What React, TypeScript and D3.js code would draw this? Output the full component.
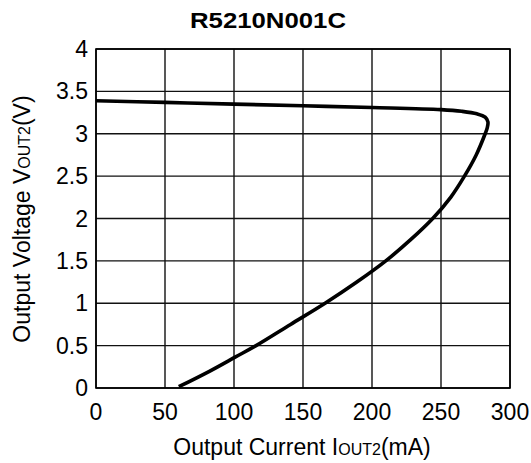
import React from "react";
import * as d3 from "d3";

const currentMA = [0, 50, 100, 150, 200, 250, 265, 276, 282, 284, 283.5, 282, 275.5, 267, 257, 244, 228, 210, 189, 166, 141, 116, 101.5, 82.5, 60];
const voltageV = [3.39, 3.37, 3.35, 3.33, 3.31, 3.285, 3.265, 3.235, 3.195, 3.14, 3.07, 3.0, 2.75, 2.5, 2.25, 2.0, 1.75, 1.5, 1.25, 1.0, 0.75, 0.5, 0.37, 0.2, 0.015];
const xTicks = [0, 50, 100, 150, 200, 250, 300];
const yTicks = [0, 0.5, 1, 1.5, 2, 2.5, 3, 3.5, 4];
const yTickLabels = ["0", "0.5", "1", "1.5", "2", "2.5", "3", "3.5", "4"];

export default function App() {
  const W = 531, H = 463;
  const left = 96, right = 510, top = 49, bottom = 388;
  const x = d3.scaleLinear().domain([0, 300]).range([left, right]);
  const y = d3.scaleLinear().domain([0, 4]).range([bottom, top]);
  const pts = currentMA.map((c, i) => [c, voltageV[i]] as [number, number]);
  const line = d3.line<[number, number]>().x(d => x(d[0])).y(d => y(d[1])).curve(d3.curveCatmullRom.alpha(0.5));
  const font = "'Liberation Sans', Arial, Helvetica, sans-serif";
  return (
    <svg width={W} height={H} style={{ position: "absolute", left: 0, top: 0 }} fontFamily={font}>
      <rect width={W} height={H} fill="#fff" />
      <text x={268} y={28} textAnchor="middle" fontSize={22} fontWeight="bold" fill="#000" textLength={156} lengthAdjust="spacingAndGlyphs">R5210N001C</text>
      {xTicks.map(t => (
        <line key={"gx" + t} x1={x(t)} x2={x(t)} y1={top} y2={bottom} stroke="#111" strokeWidth={1.4} />
      ))}
      {yTicks.map(t => (
        <line key={"gy" + t} x1={left} x2={right} y1={y(t)} y2={y(t)} stroke="#111" strokeWidth={1.4} />
      ))}
      <rect x={left} y={top} width={right - left} height={bottom - top} fill="none" stroke="#000" strokeWidth={1.6} />
      <path d={line(pts) || ""} fill="none" stroke="#000" strokeWidth={3.6} strokeLinejoin="round" strokeLinecap="butt" />
      {yTicks.map((t, i) => (
        <text key={"ty" + t} x={88} y={y(t) + 8} textAnchor="end" fontSize={23} fill="#000">{yTickLabels[i]}</text>
      ))}
      {xTicks.map(t => (
        <text key={"tx" + t} x={x(t)} y={420} textAnchor="middle" fontSize={23} fill="#000">{t}</text>
      ))}
      <text x={302} y={455} textAnchor="middle" fontSize={23} fill="#000">
        Output Current I<tspan fontSize={16}>OUT2</tspan>(mA)
      </text>
      <text transform={`translate(30,${219}) rotate(-90)`} textAnchor="middle" fontSize={23} fill="#000">
        Output Voltage V<tspan fontSize={16}>OUT2</tspan>(V)
      </text>
    </svg>
  );
}
